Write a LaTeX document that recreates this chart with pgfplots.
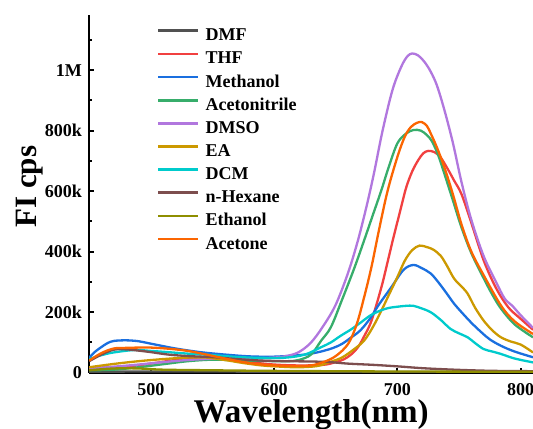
\documentclass[border=0pt]{standalone}
\usepackage{fontspec}
\setmainfont{Liberation Serif}
\usepackage{pgfplots}
\pgfplotsset{compat=1.18}

\definecolor{cDMF}{RGB}{81,81,81}
\definecolor{cTHF}{RGB}{241,64,64}
\definecolor{cMeOH}{RGB}{26,111,223}
\definecolor{cMeCN}{RGB}{55,173,107}
\definecolor{cDMSO}{RGB}{177,119,222}
\definecolor{cEA}{RGB}{204,153,0}
\definecolor{cDCM}{RGB}{0,203,204}
\definecolor{cHex}{RGB}{125,78,78}
\definecolor{cEtOH}{RGB}{142,142,0}
\definecolor{cAce}{RGB}{251,101,1}

\begin{document}
\begin{tikzpicture}
\begin{axis}[
    name=ax,
    scale only axis,
    width=443bp, height=357bp,
    xmin=450, xmax=810,
    ymin=0, ymax=1182,
    axis x line*=bottom,
    axis y line*=left,
    axis line style={line width=2.3bp},
    xtick={500,600,700,800},
    minor xtick={450,550,650,750},
    ytick={0,200,400,600,800,1000},
    yticklabels={0,200k,400k,600k,800k,1M},
    minor ytick={100,300,500,700,900,1100},
    tick align=inside,
    major tick length=5bp,
    minor tick length=3bp,
    every tick/.style={black, line width=2bp},
    /pgf/number format/assume math mode=true,
    tick label style={font=\fontsize{18bp}{20bp}\selectfont\bfseries},
    xticklabel style={inner sep=0pt, anchor=north, yshift=-11bp},
    yticklabel style={inner sep=0pt, anchor=east, xshift=-7bp},
    xlabel={Wavelength(nm)},
    ylabel={FI cps},
    every axis x label/.style={at={(axis description cs:0.5,0)}, anchor=base, yshift=-49.5bp,
        font=\fontsize{33bp}{36bp}\selectfont\bfseries},
    every axis y label/.style={at={(axis description cs:-0.1332,0.52)}, anchor=center, rotate=90,
        font=\fontsize{31bp}{34bp}\selectfont\bfseries},
    legend style={draw=none, fill=none, inner sep=0pt, outer sep=0pt,
        at={(axis description cs:0.1528,0.9644)}, anchor=north west,
        font=\fontsize{18bp}{20bp}\selectfont\bfseries,
        row sep=6.1bp,
        nodes={inner sep=0pt, text height=13bp, text depth=4bp},
        /tikz/every even column/.append style={column sep=0pt}},
    legend cell align=left,
    legend image code/.code={\draw[#1, line width=2.6bp] (0bp,5.5bp) -- (40bp,5.5bp); \path (46bp,5.5bp);},
    every axis plot/.append style={line width=2.3bp, smooth, tension=0.55},
]
\addplot[cDMF] coordinates {(450,3)(500,4)(550,4)(600,3)(650,3)(700,2)(750,2)(810,2)};
\addplot[cTHF] coordinates {(450,12)(465,16)(480,20)(500,30)(520,42)(540,48)(560,45)(580,35)(600,27)(620,24)(640,26)(650,35)(657,45)(663,62)(668,84)(673,120)(679,172)(687,282)(692,365)(697,450)(702,530)(707,610)(712,665)(717,703)(721,725)(725,733)(730,729)(735,712)(741,672)(746,635)(752,590)(760,495)(770,371)(780,280)(790,216)(800,178)(810,142)};
\addplot[cMeOH] coordinates {(450,50)(455,70)(460,85)(465,98)(470,105)(480,107)(490,104)(500,96)(520,80)(540,68)(560,60)(580,54)(600,53)(620,58)(630,63)(640,72)(648,82)(655,95)(662,115)(670,140)(678,180)(685,225)(695,282)(705,340)(713,356)(720,345)(727,328)(733,300)(740,262)(746,228)(752,200)(760,165)(768,134)(775,110)(784,89)(795,70)(810,51)};
\addplot[cMeCN] coordinates {(450,8)(470,10)(490,18)(510,28)(530,38)(550,43)(570,41)(590,39)(610,38)(620,42)(630,60)(638,105)(646,150)(655,240)(665,345)(673,437)(680,520)(687,603)(693,680)(700,758)(707,790)(713,802)(719,800)(724,785)(728,765)(733,720)(738,659)(745,570)(752,480)(760,395)(770,312)(777,258)(784,212)(795,160)(810,117)};
\addplot[cDMSO] coordinates {(450,15)(470,20)(490,27)(510,35)(530,42)(550,46)(570,47)(590,48)(600,50)(610,55)(620,68)(630,100)(640,155)(650,225)(660,330)(668,437)(675,550)(681,659)(688,800)(696,934)(703,1010)(708,1045)(712,1055)(717,1048)(722,1027)(727,995)(732,950)(738,870)(745,760)(752,630)(760,505)(770,385)(780,300)(787,245)(793,222)(800,190)(810,148)};
\addplot[cEA] coordinates {(450,18)(470,29)(490,38)(510,45)(530,50)(545,50)(560,42)(575,32)(590,24)(605,20)(620,18)(635,22)(645,35)(655,50)(665,78)(673,106)(680,150)(687,205)(694,265)(700,316)(706,370)(712,405)(718,420)(724,415)(729,407)(735,387)(740,355)(746,311)(752,285)(757,261)(763,215)(770,172)(777,140)(784,117)(792,103)(800,93)(810,67)};
\addplot[cDCM] coordinates {(450,45)(460,58)(470,67)(487,75)(500,72)(514,68)(530,63)(550,58)(570,52)(590,49)(610,50)(625,60)(638,84)(646,100)(654,122)(662,142)(670,165)(678,189)(686,205)(693,214)(700,218)(707,221)(713,221)(720,212)(727,200)(735,175)(743,145)(750,130)(757,117)(763,98)(770,78)(777,70)(784,62)(795,47)(810,34)};
\addplot[cHex] coordinates {(450,38)(460,60)(470,76)(480,77)(490,73)(500,68)(514,60)(530,55)(552,51)(570,45)(590,40)(610,38)(630,37)(645,35)(660,30)(680,26)(700,21)(720,15)(740,11)(760,8)(780,6)(810,5)};
\addplot[cEtOH] coordinates {(450,8)(470,14)(490,14)(510,10)(550,8)(600,6)(700,4)(810,3)};
\addplot[cAce] coordinates {(450,40)(460,65)(470,80)(480,82)(490,83)(500,83)(515,79)(530,72)(545,60)(560,47)(575,35)(590,27)(605,23)(620,22)(630,24)(640,35)(650,55)(660,95)(667,160)(673,249)(679,350)(685,470)(692,600)(700,713)(706,780)(711,812)(716,826)(720,828)(724,815)(727,791)(732,745)(738,680)(745,590)(752,490)(760,400)(770,322)(784,222)(795,170)(810,128)};
\legend{DMF,THF,Methanol,Acetonitrile,DMSO,EA,DCM,n-Hexane,Ethanol,Acetone}
\end{axis}
\pgfresetboundingbox
\path ([xshift=-89bp,yshift=-56bp]ax.south west) rectangle ([yshift=15bp]ax.north east);
\end{tikzpicture}
\end{document}
